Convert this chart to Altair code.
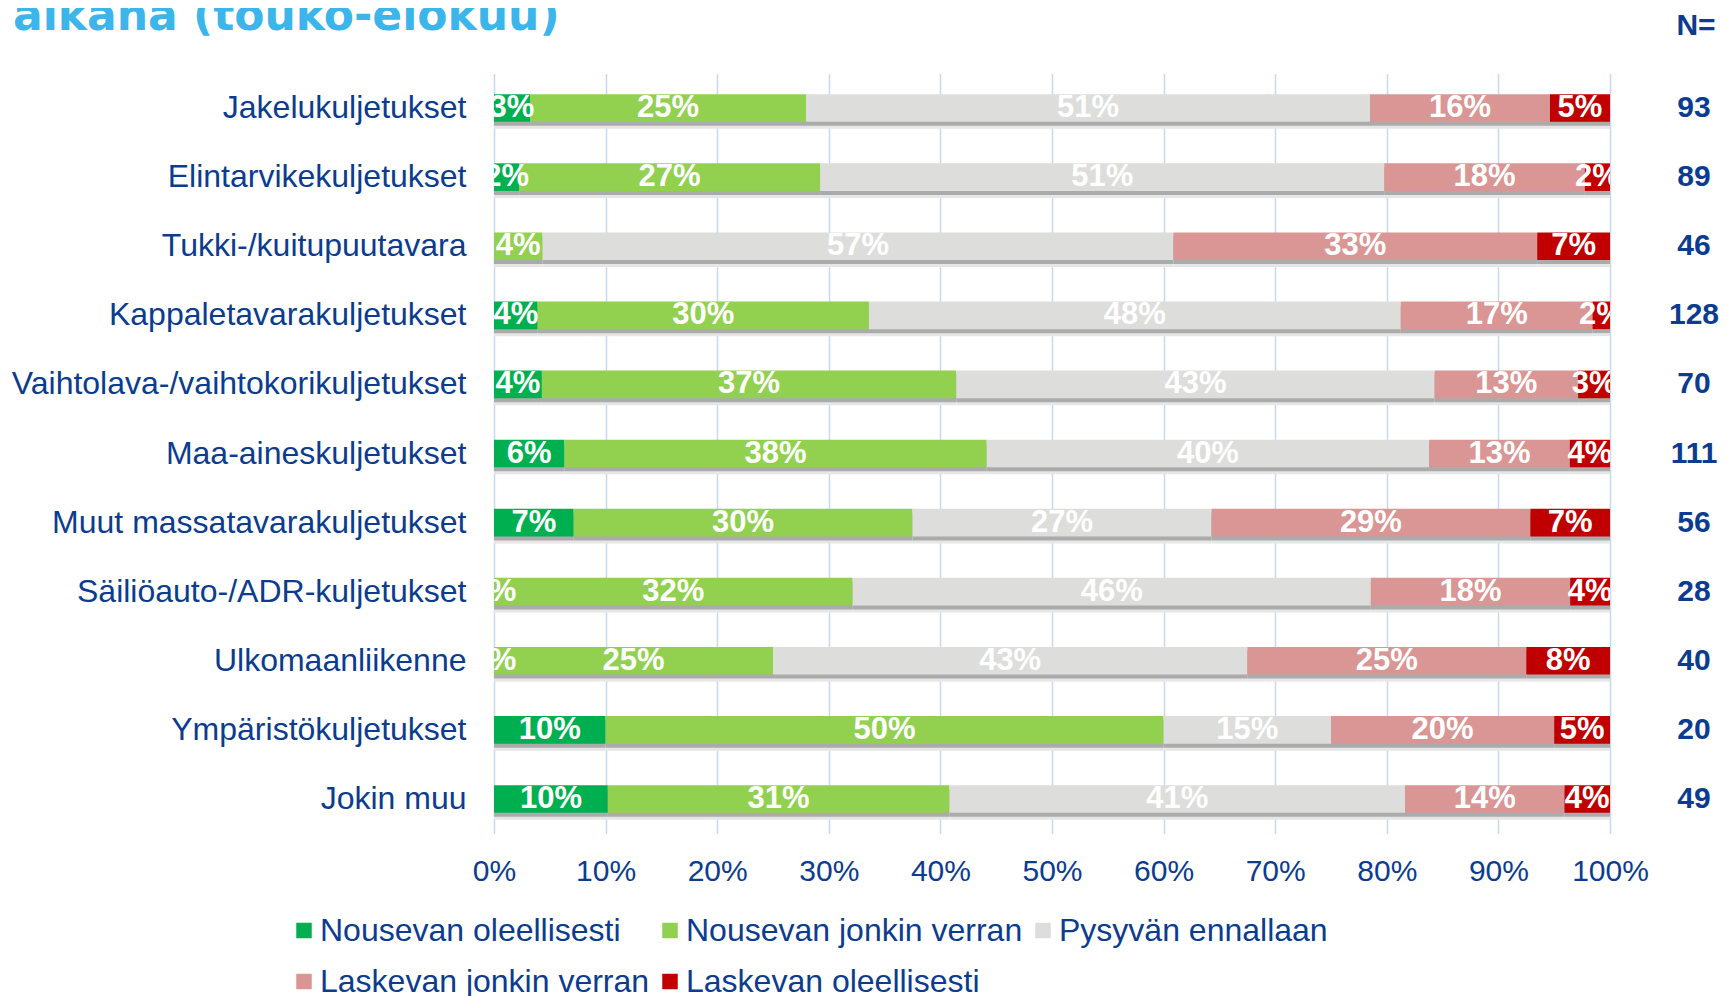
import altair as alt
import pandas as pd

# ---------------- data ----------------
categories = [
    "Jakelukuljetukset",
    "Elintarvikekuljetukset",
    "Tukki-/kuitupuutavara",
    "Kappaletavarakuljetukset",
    "Vaihtolava-/vaihtokorikuljetukset",
    "Maa-aineskuljetukset",
    "Muut massatavarakuljetukset",
    "Säiliöauto-/ADR-kuljetukset",
    "Ulkomaanliikenne",
    "Ympäristökuljetukset",
    "Jokin muu",
]
n_values = [93, 89, 46, 128, 70, 111, 56, 28, 40, 20, 49]

series_names = [
    "Nousevan oleellisesti",
    "Nousevan jonkin verran",
    "Pysyvän ennallaan",
    "Laskevan jonkin verran",
    "Laskevan oleellisesti",
]
nousevan_oleellisesti = [3.23, 2.25, None, 3.91, 4.29, 6.31, 7.14, 0.0, 0.0, 10.0, 10.20]
nousevan_jonkin_verran = [24.73, 26.97, 4.35, 29.69, 37.14, 37.84, 30.36, 32.14, 25.0, 50.0, 30.61]
pysyvan_ennallaan = [50.54, 50.56, 56.52, 47.66, 42.86, 39.64, 26.79, 46.43, 42.5, 15.0, 40.82]
laskevan_jonkin_verran = [16.13, 17.98, 32.61, 17.19, 12.86, 12.61, 28.57, 17.86, 25.0, 20.0, 14.29]
laskevan_oleellisesti = [5.38, 2.25, 6.52, 1.56, 2.86, 3.60, 7.14, 3.57, 7.5, 5.0, 4.08]

series_values = [
    nousevan_oleellisesti,
    nousevan_jonkin_verran,
    pysyvan_ennallaan,
    laskevan_jonkin_verran,
    laskevan_oleellisesti,
]
colors = ["#00B050", "#92D050", "#DDDDDB", "#D99694", "#C00000"]

title_text = "aikana (touko-elokuu)"
n_header = "N="
x_ticks = [0, 0.1, 0.2, 0.3, 0.4, 0.5, 0.6, 0.7, 0.8, 0.9, 1.0]

# ---------------- build tables ----------------
rows = []
for si, (name, vals) in enumerate(zip(series_names, series_values)):
    for cat, v in zip(categories, vals):
        rows.append({"category": cat, "series": name, "order": si, "value": v})
df = pd.DataFrame(rows)
df_n = pd.DataFrame({"category": categories, "n": n_values})

BLUE = "#0B3C8F"
FONT = "Liberation Sans"

y_enc = alt.Y(
    "category:N",
    sort=categories,
    scale=alt.Scale(paddingInner=0.6, paddingOuter=0.3),
    axis=alt.Axis(
        title=None, domain=False, ticks=False, tickSize=0, grid=False,
        labelFontSize=32, labelColor=BLUE, labelFont=FONT,
        labelPadding=28, labelLimit=700,
    ),
)

x_enc = alt.X(
    "x0:Q",
    scale=alt.Scale(domain=[0, 1], nice=False),
    axis=alt.Axis(
        title=None, format=".0%", values=x_ticks, grid=True,
        gridColor="#C6D9F1", gridWidth=1.5, domain=False, ticks=False,
        tickSize=0, labelPadding=23, labelFontSize=30, labelColor=BLUE,
        labelFont=FONT, labelFlush=False, labelOverlap=False,
    ),
)

base = (
    alt.Chart(df)
    .transform_filter("isValid(datum.value)")
    .transform_stack(
        stack="value",
        groupby=["category"],
        as_=["x0", "x1"],
        sort=[alt.SortField("order", order="ascending")],
        offset="normalize",
    )
    .transform_calculate(
        mid="(datum.x0 + datum.x1) / 2",
        label="format(datum.value, '.0f') + '%'",
    )
)

shadow_light = base.mark_bar(color="#E6E6E6", yOffset=7, y2Offset=7).encode(
    x=x_enc, x2="x1:Q", y=y_enc
)
shadow_dark = base.mark_bar(color="#ABABAB", yOffset=4, y2Offset=4).encode(
    x=x_enc, x2="x1:Q", y=y_enc
)

bars = base.mark_bar().encode(
    x=x_enc,
    x2="x1:Q",
    y=y_enc,
    color=alt.Color(
        "series:N",
        scale=alt.Scale(domain=series_names, range=colors),
        legend=alt.Legend(
            title=None, orient="none", legendX=-206, legendY=841,
            direction="horizontal", columns=3, symbolType="square",
            symbolSize=240, symbolStrokeWidth=0, symbolOpacity=1,
            labelFontSize=32, labelColor=BLUE, labelFont=FONT,
            labelLimit=700, columnPadding=4, rowPadding=19,
            labelOffset=0, padding=0,
        ),
    ),
)

labels = base.mark_text(
    color="white", fontSize=31, fontWeight="bold", font=FONT,
    align="center", baseline="middle", clip=True,
).encode(
    x=alt.X("mid:Q"),
    y=alt.Y("category:N", sort=categories),
    text="label:N",
)

n_text = alt.Chart(df_n).mark_text(
    color=BLUE, fontSize=30, fontWeight="bold", font=FONT,
    align="center", baseline="middle",
).encode(
    x=alt.value(1200),
    y=alt.Y("category:N", sort=categories),
    text="n:Q",
)

n_head = alt.Chart(pd.DataFrame({"t": [n_header]})).mark_text(
    color=BLUE, fontSize=30, fontWeight="bold", font=FONT,
    align="center", baseline="middle",
).encode(x=alt.value(1202), y=alt.value(-47.5), text="t:N")

title = alt.Chart(pd.DataFrame({"t": [title_text]})).mark_text(
    color="#3BB5EA", fontSize=44, fontWeight="bold", font="DejaVu Sans",
    align="left", baseline="alphabetic",
).encode(x=alt.value(-481), y=alt.value(-44), text="t:N")

chart = (
    alt.layer(shadow_light, shadow_dark, bars, labels, n_text, n_head, title)
    .properties(
        width=1116,
        height=760,
        autosize=alt.AutoSizeParams(type="none"),
        padding={"left": 486, "top": 65.5, "right": 109, "bottom": 162.5},
        background="white",
    )
    .configure_view(stroke=None)
)

chart.save("out.html", embed_options={"renderer": "svg", "actions": False})
